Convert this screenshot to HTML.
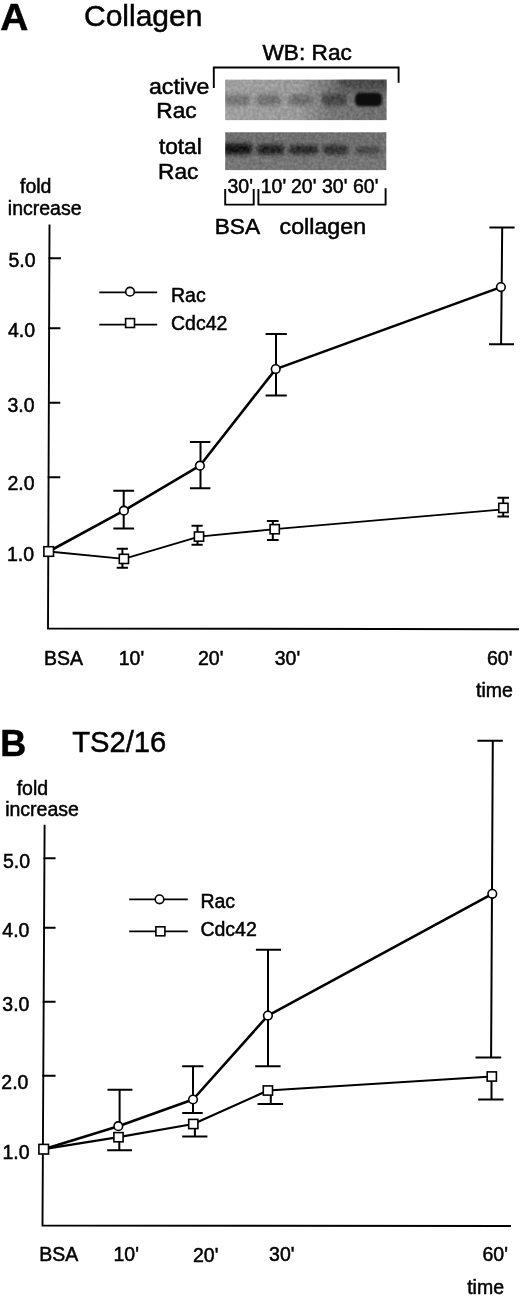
<!DOCTYPE html>
<html><head><meta charset="utf-8">
<style>
html,body{margin:0;padding:0;background:#fff;}
body{width:520px;height:1296px;overflow:hidden;}
svg{display:block;will-change:transform;}
text{font-family:"Liberation Sans",sans-serif;fill:#000;stroke:#000;stroke-width:0.5px;}
.t19{font-size:19.5px;}
.t22{font-size:21.2px;}
.t30{font-size:30px;}
.bold{font-weight:bold;font-size:36px;}
.ax{stroke:#000;stroke-width:1.9;fill:none;stroke-linecap:square;}
.rac{stroke:#000;stroke-width:2.6;fill:none;stroke-linejoin:round;}
.cdc{stroke:#000;stroke-width:1.8;fill:none;stroke-linejoin:round;}
.eb{stroke:#000;stroke-width:2;fill:none;}
.mk{stroke:#000;stroke-width:1.6;fill:#fff;}
</style></head>
<body>
<svg width="520" height="1296" viewBox="0 0 520 1296">
<defs>
  <filter id="bl2" x="-50%" y="-100%" width="200%" height="300%"><feGaussianBlur stdDeviation="2.2"/></filter>
  <filter id="bl1" x="-50%" y="-100%" width="200%" height="300%"><feGaussianBlur stdDeviation="1.2"/></filter>
  <filter id="grain" x="0" y="0" width="100%" height="100%" color-interpolation-filters="sRGB">
    <feTurbulence type="fractalNoise" baseFrequency="0.32" numOctaves="2" seed="3" result="n"/>
    <feColorMatrix in="n" type="matrix" values="1 0 0 0 0  1 0 0 0 0  1 0 0 0 0  0 0 0 0 1" result="g"/>
    <feComposite in="SourceGraphic" in2="g" operator="arithmetic" k1="0" k2="1" k3="0.2" k4="-0.1"/>
  </filter>
  <filter id="bl4" x="-50%" y="-50%" width="200%" height="200%"><feGaussianBlur stdDeviation="5"/></filter>
</defs>

<!-- ================= PANEL A ================= -->
<text class="bold" transform="translate(0.2,30) scale(1.08,1.02)">A</text>
<text class="t30" x="84" y="25.5">Collagen</text>

<!-- WB header and bracket -->
<text class="t22" transform="translate(262.4,60.2) scale(1.07,1)">WB: Rac</text>
<path class="ax" d="M213.8 87 V67.5 H398.6 V81.7" stroke-linecap="butt"/>

<text class="t22" transform="translate(148.9,93.9) scale(1.095,1)">active</text>
<text class="t22" transform="translate(156.3,117.7) scale(1.07,1)">Rac</text>
<text class="t22" transform="translate(158.9,154.2) scale(1.07,1)">total</text>
<text class="t22" transform="translate(158.1,178.5) scale(1.07,1)">Rac</text>

<!-- blot 1 -->
<clipPath id="c1"><rect x="225.2" y="79.5" width="161.5" height="40.8"/></clipPath>
<clipPath id="c2"><rect x="225.2" y="132.2" width="161.3" height="38"/></clipPath>
<linearGradient id="g1" x1="0" x2="1" y1="0" y2="0">
  <stop offset="0" stop-color="#a0a0a0"/><stop offset="0.46" stop-color="#9a9a9a"/><stop offset="0.65" stop-color="#767676"/><stop offset="1" stop-color="#6e6e6e"/>
</linearGradient>
<linearGradient id="g2" x1="0" x2="0" y1="0" y2="1">
  <stop offset="0" stop-color="#6e6e6e"/><stop offset="1" stop-color="#777777"/>
</linearGradient>
<g clip-path="url(#c1)"><g filter="url(#grain)">
  <rect x="225.2" y="79.5" width="161.5" height="40.8" fill="url(#g1)"/>
  <rect x="338" y="74" width="56" height="16" fill="#3c3c3c" filter="url(#bl4)" opacity="0.8"/>
  <rect x="223" y="94.5" width="27" height="11" rx="4" fill="#767676" filter="url(#bl2)"/>
  <rect x="256" y="94.5" width="25" height="11" rx="4" fill="#717171" filter="url(#bl2)"/>
  <rect x="289" y="94.5" width="24" height="11" rx="4" fill="#6c6c6c" filter="url(#bl2)"/>
  <rect x="322" y="93.5" width="25" height="12" rx="4" fill="#464646" filter="url(#bl2)"/>
</g>
  <rect x="355" y="92.5" width="27" height="14" rx="5" fill="#0e0e0e" filter="url(#bl1)"/>
</g>
<!-- blot 2 -->
<g clip-path="url(#c2)"><g filter="url(#grain)">
  <rect x="225.2" y="132.2" width="161.3" height="38" fill="url(#g2)"/>
  <rect x="221" y="143.5" width="31" height="11" rx="4" fill="#151515" filter="url(#bl2)"/>
  <rect x="257" y="144.5" width="27" height="10" rx="4" fill="#222" filter="url(#bl2)"/>
  <rect x="289" y="145" width="29" height="9.5" rx="4" fill="#2c2c2c" filter="url(#bl2)"/>
  <rect x="323" y="145" width="25" height="9.5" rx="4" fill="#333" filter="url(#bl2)"/>
  <rect x="355" y="146" width="26" height="8.5" rx="4" fill="#4a4a4a" filter="url(#bl2)"/>
</g></g>

<!-- lane labels -->
<text class="t19" x="227.5" y="192.8">30'</text>
<text class="t19" x="260.7" y="192.8">10'</text>
<text class="t19" x="291" y="192.8">20'</text>
<text class="t19" x="322" y="192.8">30'</text>
<text class="t19" x="353" y="192.8">60'</text>
<path class="ax" d="M225.2 190 V204.6 H253.7 V190" stroke-linecap="butt"/>
<path class="ax" d="M258.4 190 V204.6 H385.6 V189.2" stroke-linecap="butt"/>
<text class="t22" transform="translate(214.7,233.5) scale(1.07,1)">BSA</text>
<text class="t22" transform="translate(279.6,233.5) scale(1.095,1)">collagen</text>

<!-- axis labels -->
<text class="t19" x="20" y="193">fold</text>
<text class="t19" x="7.8" y="214.6">increase</text>

<!-- axes A -->
<path class="ax" d="M49.5 225.4 L48 628.5 L518 629.2" stroke-linecap="butt"/>
<path class="ax" d="M49.5 258.2 H60 M49.3 328.2 H59.5 M49 402.8 H59.3 M48.7 477.3 H59.3" stroke-linecap="butt"/>
<text class="t19" x="8.5" y="267.4">5.0</text>
<text class="t19" x="8" y="337">4.0</text>
<text class="t19" x="7.4" y="411.8">3.0</text>
<text class="t19" x="7.5" y="489.5">2.0</text>
<text class="t19" x="7.0" y="560.5">1.0</text>

<text class="t19" x="44.0" y="664.6">BSA</text>
<text class="t19" x="118.7" y="665">10'</text>
<text class="t19" x="198" y="665">20'</text>
<text class="t19" x="274.7" y="665">30'</text>
<text class="t19" x="487.0" y="665.4">60'</text>
<text class="t19" x="476" y="697">time</text>

<!-- legend A -->
<path class="cdc" d="M99.3 292.4 H157.2 M99.3 324.6 H157.2"/>
<circle class="mk" cx="130" cy="291.7" r="4.3"/>
<rect class="mk" x="125.6" y="318.6" width="8.9" height="8.9"/>
<text class="t19" x="171.0" y="301.5">Rac</text>
<text class="t19" x="171" y="330.3">Cdc42</text>

<!-- error bars A -->
<path class="eb" d="M123.7 490.8 V528.5 M113.3 490.8 H134.1 M113.3 528.5 H134.1"/>
<path class="eb" d="M200.5 442.1 V488.3 M189.9 442.1 H210.4 M189.9 488.3 H210.4"/>
<path class="eb" d="M276 334.1 V395.4 M265.6 334.1 H286.8 M265.6 395.4 H286.8"/>
<path class="eb" d="M502.2 227.5 L501.1 344.2 M489.4 227.5 H514.6 M489 344.2 H514"/>
<path class="eb" d="M122.4 548.7 V567.7 M116.7 548.7 H127.9 M116.7 567.7 H127.9"/>
<path class="eb" d="M197.5 525.8 V544.7 M191.5 525.8 H202.7 M191.5 544.7 H202.7"/>
<path class="eb" d="M272.8 521.1 V540 M266.9 521.1 H278.6 M266.9 540 H278.6"/>
<path class="eb" d="M503.2 497.8 V516.6 M497.4 497.8 H509 M497.4 516.6 H509"/>

<!-- data lines A -->
<polyline class="cdc" points="48.7,551.5 123.9,558.9 199,536.6 274.7,529.2 503.4,509.3"/>
<polyline class="rac" points="48.7,551.5 123.9,510.65 199.9,465.7 275.7,369.1 500.9,287.1"/>
<circle class="mk" cx="123.9" cy="510.65" r="4.3"/>
<circle class="mk" cx="199.9" cy="465.7" r="4.3"/>
<circle class="mk" cx="275.7" cy="369.1" r="4.3"/>
<circle class="mk" cx="500.9" cy="287.1" r="4.3"/>
<rect class="mk" x="43.9" y="546.7" width="9.6" height="9.6"/>
<rect class="mk" x="119.3" y="554.3" width="9.2" height="9.2"/>
<rect class="mk" x="194.4" y="532" width="9.2" height="9.2"/>
<rect class="mk" x="270.1" y="524.6" width="9.2" height="9.2"/>
<rect class="mk" x="498.8" y="503.3" width="9.2" height="9.2"/>

<!-- ================= PANEL B ================= -->
<text class="bold" x="0.3" y="756.4">B</text>
<text class="t30" x="72.2" y="752" style="font-size:29.2px">TS2/16</text>
<text class="t19" x="16.7" y="795.4">fold</text>
<text class="t19" x="5.2" y="816.2">increase</text>

<path class="ax" d="M44.6 825.8 L42.5 1225.6 L510 1226" stroke-linecap="butt"/>
<path class="ax" d="M44.4 858.2 H54.6 M44.1 927.7 H54.6 M43.7 1001.8 H54.6 M43.3 1075.8 H54.6" stroke-linecap="butt"/>
<text class="t19" x="2.9" y="867.7">5.0</text>
<text class="t19" x="2.3" y="936.9">4.0</text>
<text class="t19" x="2.3" y="1011.2">3.0</text>
<text class="t19" x="1.3" y="1088.5">2.0</text>
<text class="t19" x="2.5" y="1158.5">1.0</text>

<text class="t19" x="39.2" y="1261">BSA</text>
<text class="t19" x="113.5" y="1261.3">10'</text>
<text class="t19" x="193.0" y="1261.5">20'</text>
<text class="t19" x="269.1" y="1261.3">30'</text>
<text class="t19" x="482.5" y="1261.4">60'</text>
<text class="t19" x="467.2" y="1293.7">time</text>

<!-- legend B -->
<path class="cdc" d="M129.2 899.3 H187.8 M129.2 931.3 H187.8"/>
<circle class="mk" cx="159.5" cy="899.3" r="4.3"/>
<rect class="mk" x="155.9" y="926.8" width="9" height="9"/>
<text class="t19" x="200.4" y="908">Rac</text>
<text class="t19" x="200.4" y="936.2">Cdc42</text>

<!-- error bars B -->
<path class="eb" d="M119.6 1089.7 V1126 M107.5 1089.7 H132.4"/>
<path class="eb" d="M119.3 1137 V1150.3 M107.2 1150.3 H132"/>
<path class="eb" d="M193 1066.2 V1112.9 M182.2 1066.2 H203.4 M182.2 1112.9 H202.7"/>
<path class="eb" d="M194.9 1124 V1136.5 M182.2 1136.5 H207.4"/>
<path class="eb" d="M268 949.8 V1066.2 M255.9 949.8 H281 M255.2 1066.2 H280.6"/>
<path class="eb" d="M270.8 1090.5 V1103.9 M257.5 1103.9 H283.1"/>
<path class="eb" d="M492.8 740.7 L491.1 1057.4 M477.4 740.7 H502.8 M475.5 1057.4 H501.2"/>
<path class="eb" d="M491.5 1076.5 V1099.4 M478.1 1099.4 H503.5"/>

<!-- data lines B -->
<polyline class="cdc" style="stroke-width:2.2" points="43.7,1149.2 118.5,1137.2 193.3,1124 267.9,1090.5 491.8,1076.5"/>
<polyline class="rac" points="43.7,1149.2 118.3,1126.2 193,1099.5 267.9,1015.6 492.3,893.8"/>
<circle class="mk" cx="118.3" cy="1126.2" r="4.3"/>
<circle class="mk" cx="193" cy="1099.5" r="4.3"/>
<circle class="mk" cx="267.9" cy="1015.6" r="4.3"/>
<circle class="mk" cx="492.3" cy="893.8" r="4.3"/>
<rect class="mk" x="38.9" y="1144.4" width="9.6" height="9.6"/>
<rect class="mk" x="113.9" y="1132.6" width="9.2" height="9.2"/>
<rect class="mk" x="188.7" y="1119.4" width="9.2" height="9.2"/>
<rect class="mk" x="263.3" y="1085.9" width="9.2" height="9.2"/>
<rect class="mk" x="487.2" y="1071.9" width="9.2" height="9.2"/>
</svg>
</body></html>
